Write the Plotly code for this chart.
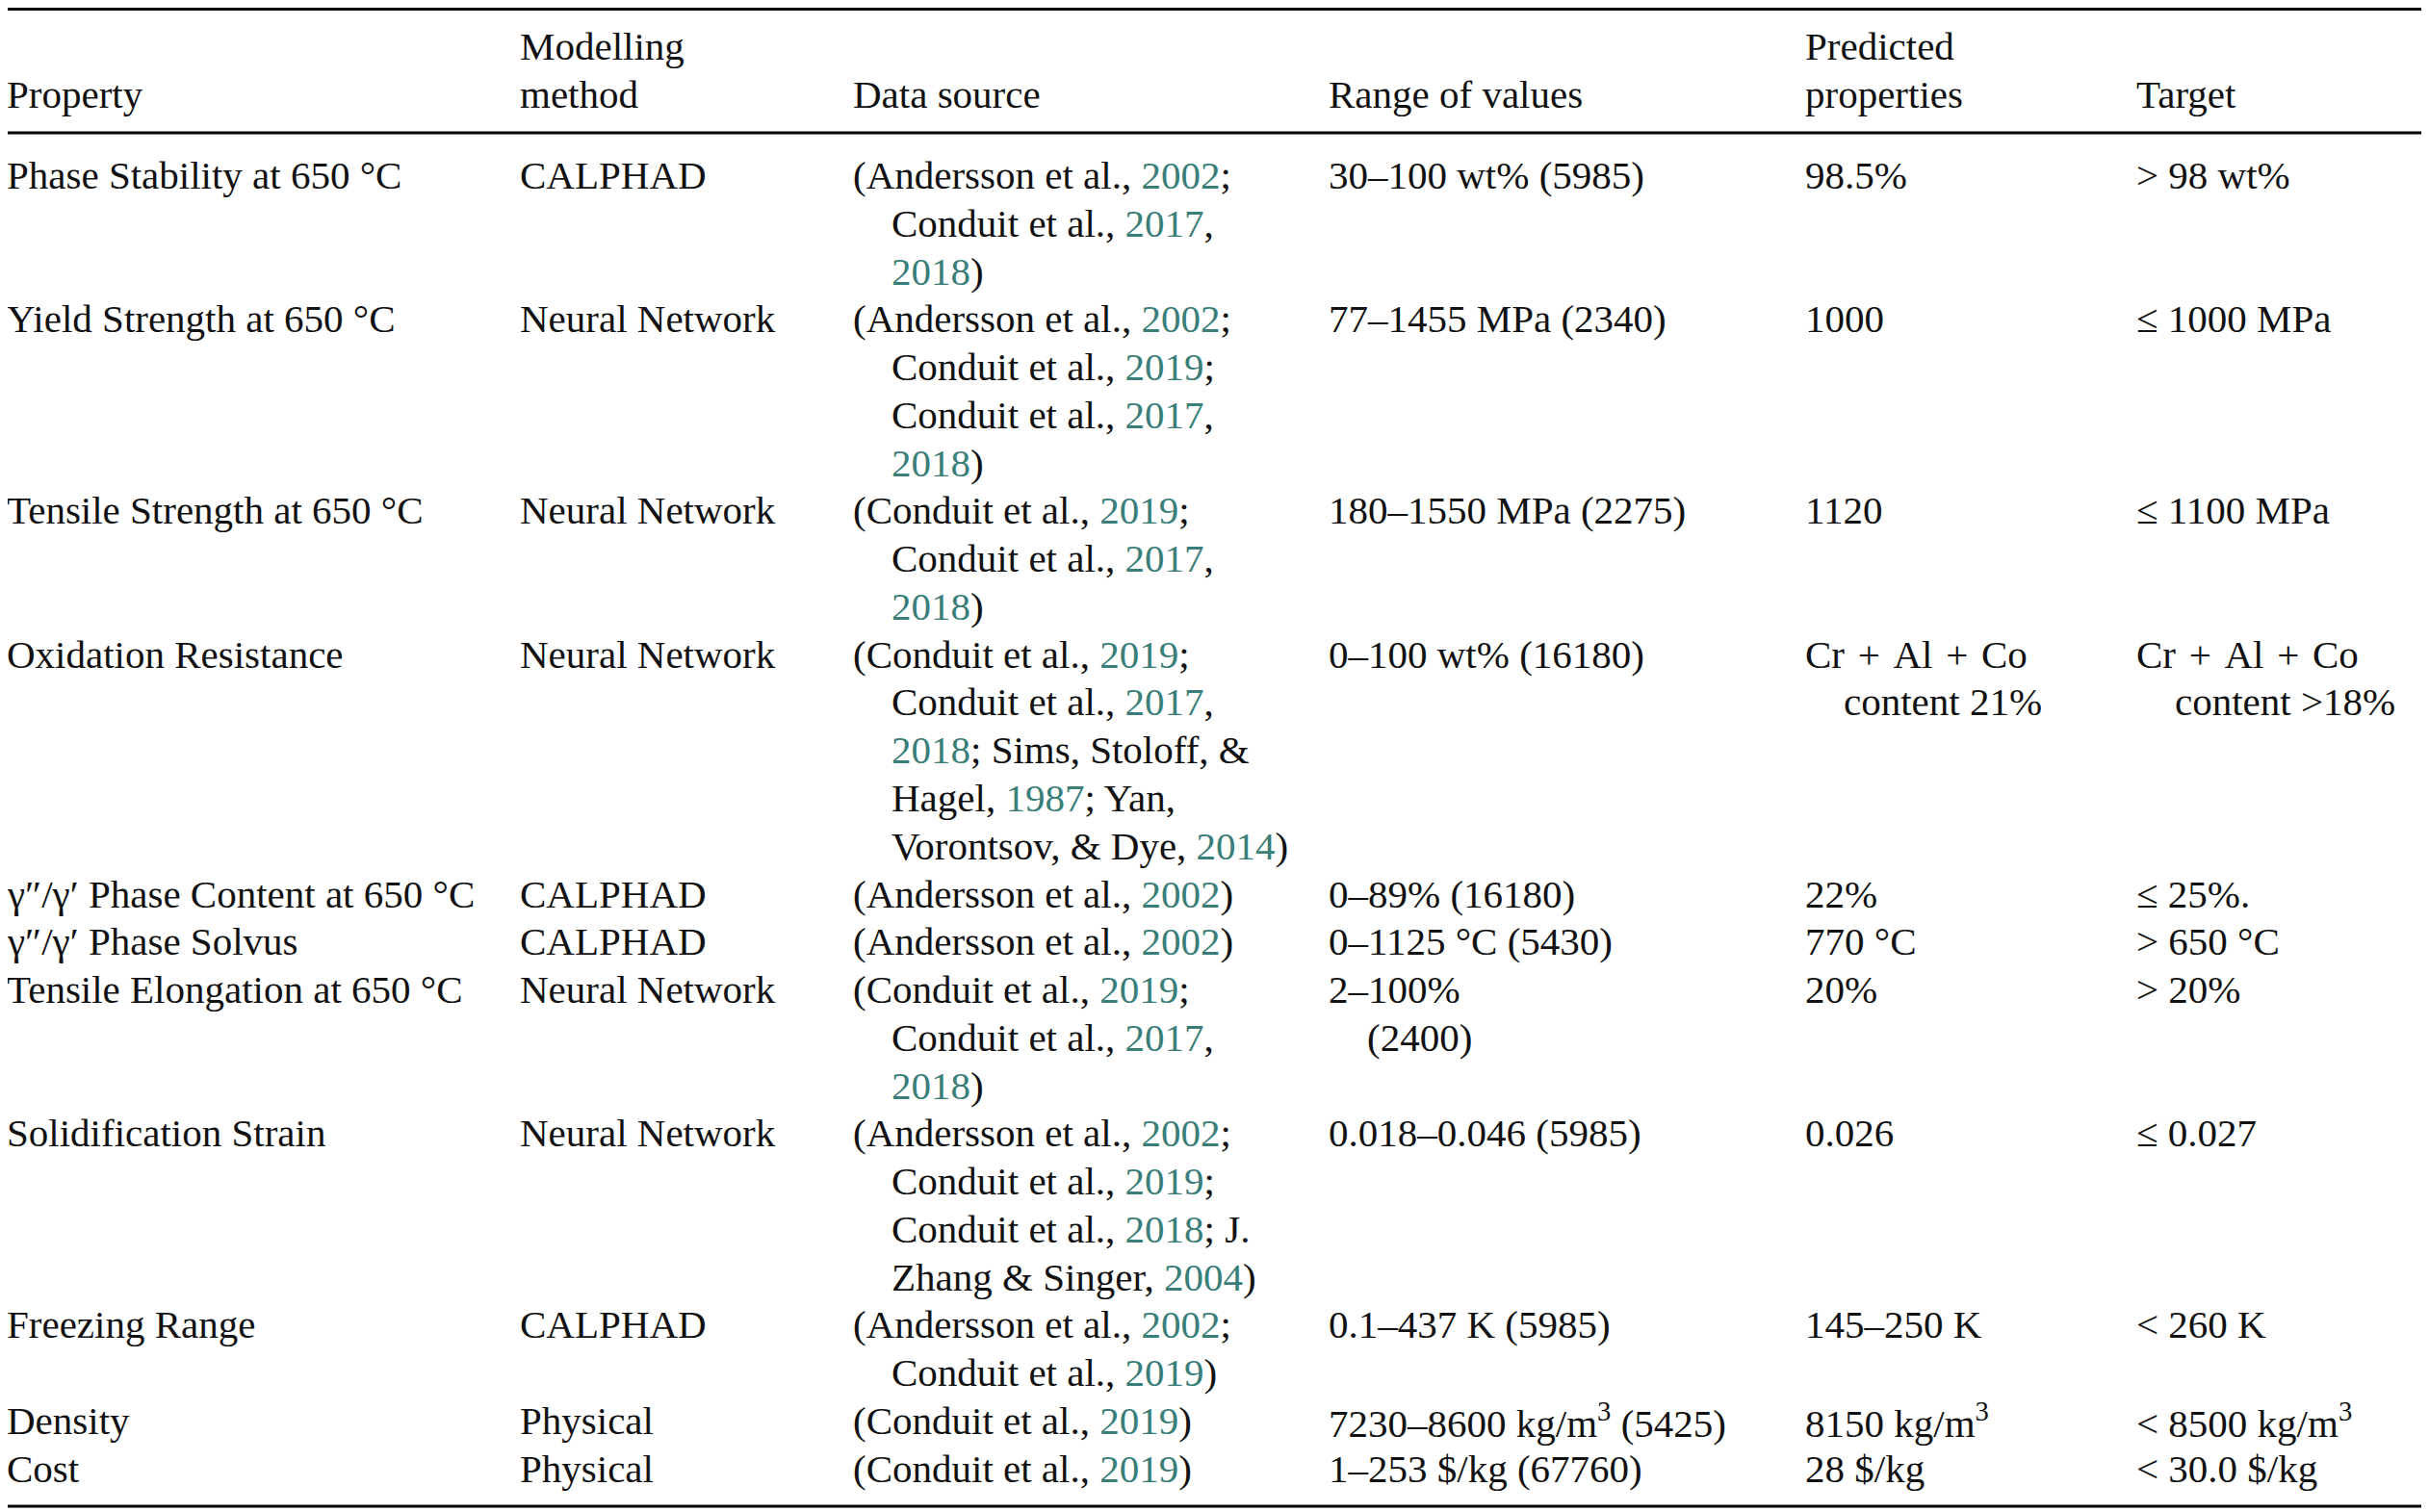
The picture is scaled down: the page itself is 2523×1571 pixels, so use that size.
"""
Table of alloy design targets, drawn as a plotly figure with text annotations.
"""

import re
import plotly.graph_objects as go

# ---- table content ----
headers = [["Property"], ["Modelling", "method"], ["Data source"], ["Range of values"],
           ["Predicted", "properties"], ["Target"]]

properties = [
    "Phase Stability at 650 °C", "Yield Strength at 650 °C", "Tensile Strength at 650 °C",
    "Oxidation Resistance", "γ″/γ′ Phase Content at 650 °C", "γ″/γ′ Phase Solvus",
    "Tensile Elongation at 650 °C", "Solidification Strain", "Freezing Range",
    "Density", "Cost",
]

methods = [
    "CALPHAD", "Neural Network", "Neural Network", "Neural Network", "CALPHAD", "CALPHAD",
    "Neural Network", "Neural Network", "CALPHAD", "Physical", "Physical",
]

# years in braces get the link colour
sources = [
    ["(Andersson et al., {2002};", "Conduit et al., {2017},", "{2018})"],
    ["(Andersson et al., {2002};", "Conduit et al., {2019};", "Conduit et al., {2017},", "{2018})"],
    ["(Conduit et al., {2019};", "Conduit et al., {2017},", "{2018})"],
    ["(Conduit et al., {2019};", "Conduit et al., {2017},", "{2018}; Sims, Stoloff, &",
     "Hagel, {1987}; Yan,", "Vorontsov, & Dye, {2014})"],
    ["(Andersson et al., {2002})"],
    ["(Andersson et al., {2002})"],
    ["(Conduit et al., {2019};", "Conduit et al., {2017},", "{2018})"],
    ["(Andersson et al., {2002};", "Conduit et al., {2019};", "Conduit et al., {2018}; J.",
     "Zhang & Singer, {2004})"],
    ["(Andersson et al., {2002};", "Conduit et al., {2019})"],
    ["(Conduit et al., {2019})"],
    ["(Conduit et al., {2019})"],
]

value_ranges = [
    ["30–100 wt% (5985)"], ["77–1455 MPa (2340)"], ["180–1550 MPa (2275)"],
    ["0–100 wt% (16180)"], ["0–89% (16180)"], ["0–1125 °C (5430)"], ["2–100%", "(2400)"],
    ["0.018–0.046 (5985)"], ["0.1–437 K (5985)"], ["7230–8600 kg/m<sup>3</sup> (5425)"],
    ["1–253 $/kg (67760)"],
]

# math-style spacing around the plus signs
predicted = [
    ["98.5%"], ["1000"], ["1120"], ["Cr\u2004+\u2004Al\u2004+\u2004Co", "content 21%"], ["22%"],
    ["770 °C"], ["20%"], ["0.026"], ["145–250 K"], ["8150 kg/m<sup>3</sup>"], ["28 $/kg"],
]

targets = [
    ["> 98 wt%"], ["≤ 1000 MPa"], ["≤ 1100 MPa"],
    ["Cr\u2004+\u2004Al\u2004+\u2004Co", "content >18%"],
    ["≤ 25%."], ["> 650 °C"], ["> 20%"], ["≤ 0.027"], ["< 260 K"],
    ["< 8500 kg/m<sup>3</sup>"], ["< 30.0 $/kg"],
]

# ---- layout settings ----
W, H = 2523, 1571
PAGE_MARGIN = 8   # default body margin of the html page
FONT = "Liberation Serif"
SIZE = 41
LINK = "#3a7e79"
col_x = [8, 538, 884, 1378, 1873, 2217]
col_shift = [-3, 0, 0, 0, 0, 0]
indent = 40
header_y = [48, 98]
body_y0 = 182
line_h = 49.77


def colour_years(s):
    return re.sub(r"\{(\d{4})\}", r"<span style='color:%s'>\1</span>" % LINK, s)


def add_text(fig, x, y, text, xshift=0):
    fig.add_annotation(x=x, y=y, text=text, xref="x", yref="y", showarrow=False,
                       xanchor="left", yanchor="middle", xshift=xshift,
                       font=dict(family=FONT, size=SIZE, color="#111111"))


fig = go.Figure()

# header: texts sit on the bottom line of the header
for cx, sh, lines in zip(col_x, col_shift, headers):
    for i, t in enumerate(lines):
        add_text(fig, cx, header_y[2 - len(lines) + i], t, sh)

# body
line = 0
for r in range(len(properties)):
    cells = [[properties[r]], [methods[r]], [colour_years(s) for s in sources[r]],
             value_ranges[r], predicted[r], targets[r]]
    for cx, sh, lines in zip(col_x, col_shift, cells):
        for i, t in enumerate(lines):
            add_text(fig, cx + (indent if i > 0 else 0), body_y0 + line_h * (line + i), t, sh)
    line += max(len(c) for c in cells)

# horizontal rules
for y, w in [(9.5, 3), (138, 3), (1565, 3)]:
    fig.add_shape(type="line", xref="x", yref="y", x0=0, x1=W, y0=y, y1=y,
                  line=dict(color="black", width=w))

# axis units are pixels of the page
fig.update_xaxes(range=[PAGE_MARGIN, W], visible=False, fixedrange=True)
fig.update_yaxes(range=[H, PAGE_MARGIN], visible=False, fixedrange=True)
fig.update_layout(width=W - PAGE_MARGIN, height=H - PAGE_MARGIN,
                  margin=dict(l=0, r=0, t=0, b=0),
                  plot_bgcolor="white", paper_bgcolor="white", showlegend=False)

fig.write_html("out.html")
